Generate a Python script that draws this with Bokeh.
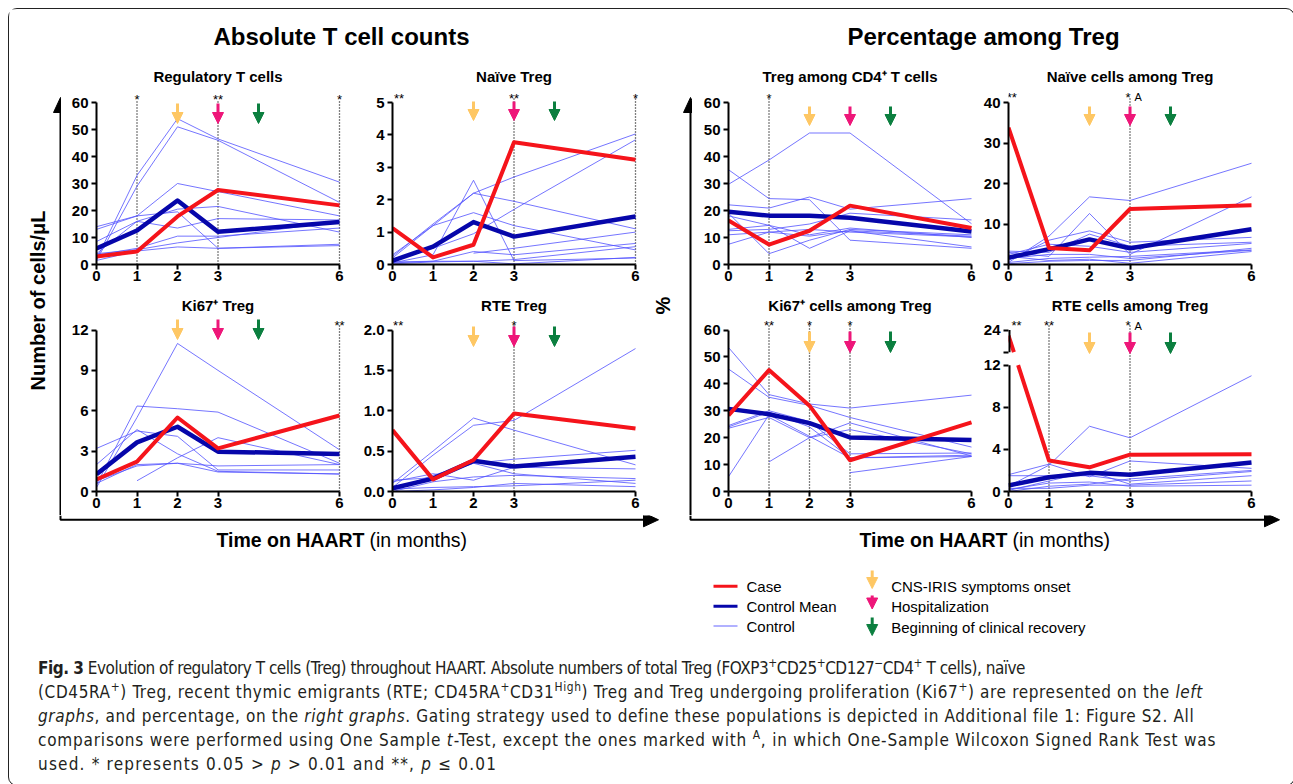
import math
from bokeh.plotting import figure
from bokeh.layouts import row, column
from bokeh.models import (Range1d, FixedTicker, PrintfTickFormatter, CustomJSTickFormatter,
                          Arrow, NormalHead, Div, Spacer)
from bokeh.core.properties import value
from bokeh.embed import file_html
from bokeh.resources import INLINE

NAN = float("nan")
FONT = "Liberation Sans"

# ---------------------------------------------------------------- data
MONTHS = [0, 1, 2, 3, 6]
EVENT_MONTHS = [2, 3, 4]
EVENT_COLORS = ["#fec764", "#ee1679", "#0b7f3f"]
EVENT_LABELS = ["CNS-IRIS symptoms onset", "Hospitalization", "Beginning of clinical recovery"]
SERIES_LABELS = ["Case", "Control Mean", "Control"]

CASE_COLOR = "#f5141b"
MEAN_COLOR = "#0606aa"
CTRL_COLOR = "#5252ff"

# Regulatory T cells (cells/uL)
treg_abs_case = [3.0, 4.8, 17.8, 27.6, 21.9]
treg_abs_mean = [5.9, 12.6, 23.7, 12.1, 15.7]
treg_abs_controls = [
    [2.0, 33.0, 54.0, 46.5, 30.5],
    [1.5, 29.0, 51.0, 46.0, 23.0],
    [14.0, 18.0, 19.5, 6.0, 7.0],
    [13.0, 18.0, 30.0, 27.0, 18.0],
    [8.5, 16.0, 20.5, 21.5, 12.0],
    [4.0, 16.0, 13.5, 17.0, 16.5],
    [3.5, 6.0, 10.5, 10.5, 13.5],
    [4.0, 5.5, 8.0, 10.0, 16.0],
    [1.5, 5.0, 6.5, 6.0, 7.5],
]
# Naive Treg (cells/uL)
naive_abs_case = [1.12, 0.22, 0.61, 3.77, 3.23]
naive_abs_mean = [0.12, 0.55, 1.31, 0.86, 1.48]
naive_abs_controls = [
    [0.2, 1.2, 2.2, 2.7, 4.03],
    [0.1, 0.5, 0.95, 1.7, 3.85],
    [0.05, 0.3, 2.6, 0.12, 0.2],
    [0.25, 1.25, 2.2, 1.95, 1.1],
    [0.3, 1.2, 1.6, 1.2, 0.45],
    [None, None, 0.35, 0.5, 1.0],
    [0.05, 0.1, 0.4, 0.3, 0.65],
    [0.02, 0.08, 0.1, 0.15, 0.55],
    [0.08, 0.1, 0.1, 0.02, 0.22],
]
# Ki67+ Treg (cells/uL)
ki67_abs_case = [0.89, 2.22, 5.5, 3.2, 5.65]
ki67_abs_mean = [1.28, 3.65, 4.81, 2.96, 2.79]
ki67_abs_controls = [
    [0.3, 5.5, 11.0, 9.0, 3.1],
    [0.5, 6.35, 6.15, 5.9, 2.1],
    [3.2, 4.5, 4.1, 1.6, 1.6],
    [2.0, 4.6, 2.8, 1.5, 1.3],
    [0.8, 1.9, 2.1, 1.9, 2.0],
    [None, 0.8, 2.5, 4.0, 2.0],
    [0.6, 2.0, 2.1, 1.45, 1.3],
]
# RTE Treg (cells/uL)
rte_abs_case = [0.76, 0.15, 0.39, 0.965, 0.78]
rte_abs_mean = [0.04, 0.16, 0.38, 0.31, 0.43]
rte_abs_controls = [
    [0.05, 0.45, 0.82, 0.88, 1.77],
    [0.1, 0.5, 0.91, 0.76, 0.33],
    [0.14, 0.17, 0.35, 0.40, 0.51],
    [0.12, 0.22, 0.14, 0.3, 0.28],
    [0.02, 0.2, 0.35, 0.22, 0.1],
    [0.0, 0.12, 0.18, 0.2, 0.16],
    [0.03, 0.05, 0.06, 0.07, 0.14],
    [0.0, 0.02, 0.05, 0.1, 0.06],
]
# Treg among CD4+ T cells (%)
treg_pct_case = [16.3, 7.4, 12.5, 21.8, 13.5]
treg_pct_mean = [19.5, 18.1, 18.1, 17.3, 12.2]
treg_pct_controls = [
    [29.7, 38.7, 48.7, 48.7, 15.1],
    [35.1, 24.4, 24.0, 9.0, 6.0],
    [22.1, 20.9, 25.0, 20.5, 24.4],
    [18.0, 14.5, 6.0, 12.5, 10.5],
    [13.0, 14.5, 11.0, 13.5, 10.0],
    [11.0, 12.0, 10.5, 12.5, 6.5],
    [7.5, 12.0, 13.0, 12.0, 10.2],
    [19.0, 4.0, 9.0, 13.0, 11.0],
    [12.5, 13.0, 15.0, 19.0, 16.5],
]
# Naive cells among Treg (%)
naive_pct_case = [33.8, 4.1, 3.5, 13.7, 14.6]
naive_pct_mean = [1.7, 3.8, 6.2, 4.0, 8.7]
naive_pct_controls = [
    [0.5, 7.0, 16.7, 15.8, 25.0],
    [3.0, 2.0, 12.6, 2.5, 16.7],
    [1.0, 6.0, 8.3, 5.5, 6.7],
    [3.3, 3.0, 7.5, 4.5, 5.5],
    [2.5, 5.0, 4.5, 3.0, 5.2],
    [0.5, 1.5, 1.8, 2.0, 3.6],
    [2.0, 1.0, 1.3, 0.3, 3.2],
    [1.5, 2.5, 2.5, 1.5, 3.5],
    [0.2, 0.8, 1.0, 1.0, 4.0],
]
# Ki67+ cells among Treg (%)
ki67_pct_case = [28.3, 45.1, 31.9, 11.6, 25.7]
ki67_pct_mean = [30.7, 28.7, 25.4, 20.1, 19.1]
ki67_pct_controls = [
    [53.5, 36.0, 32.5, 31.0, 35.8],
    [45.5, 35.0, 32.0, 27.5, 16.5],
    [24.5, 30.0, 26.0, 14.0, 14.3],
    [23.5, 27.5, 20.0, 25.5, 13.2],
    [5.5, 28.5, 20.5, 12.5, 13.5],
    [None, 11.0, 20.0, 23.0, 14.0],
    [None, None, None, 7.0, 13.0],
    [24.0, 29.5, 24.0, 12.5, 13.0],
]
# RTE cells among Treg (%)
rte_pct_case = [23.0, 2.94, 2.3, 3.5, 3.54]
rte_pct_mean = [0.57, 1.36, 1.77, 1.6, 2.75]
rte_pct_controls = [
    [0.5, 2.5, 6.2, 5.1, 11.0],
    [1.6, 2.6, 1.4, 2.9, 2.2],
    [1.5, 1.5, 1.5, 1.0, 1.9],
    [0.1, 1.0, 1.9, 0.7, 1.5],
    [0.0, 0.5, 0.7, 1.2, 2.0],
    [0.3, 0.3, 0.6, 0.6, 1.0],
    [0.2, 0.8, 0.9, 0.5, 0.6],
]
RTE_PCT_LOWER_TICKS = [0, 4, 8, 12]
RTE_PCT_UPPER = [20, 24]       # values shown on the upper (broken) segment

# ---------------------------------------------------------------- geometry
PX_PER_MONTH = 40.5
FRAME_W = 251
X_END = FRAME_W / PX_PER_MONTH
ROW_GEO = {
    "top": dict(mbt=2, fh=204, mbb=24, frame_top=60, y0=264, ytop=102, title_y=76),
    "bottom": dict(mbt=2, fh=201, mbb=24, frame_top=290, y0=491, ytop=329.5, title_y=305),
}
# broken axis of the last panel (display units)
K8 = (491 - 364.7) / 12.0
D_TOP = round((491 - 329.5) / K8, 3)
BRK_LO_D = round((491 - 351.7) / K8, 3)


def rte_disp(v):
    if v is None:
        return NAN
    if v <= 12:
        return v
    lo, hi = RTE_PCT_UPPER
    return BRK_LO_D + (v - lo) * (D_TOP - BRK_LO_D) / (hi - lo)


def clean(vals):
    return [NAN if v is None else v for v in vals]


def with_break(xs, ys, lo, hi):
    ox, oy = [], []
    for i in range(len(xs)):
        if i > 0:
            y0, y1 = ys[i - 1], ys[i]
            x0, x1 = xs[i - 1], xs[i]
            if not (math.isnan(y0) or math.isnan(y1)):
                a, b = sorted((y0, y1))
                if a < lo and b > hi:
                    def at(yv):
                        return x0 + (yv - y0) / (y1 - y0) * (x1 - x0)
                    f, s = (lo, hi) if y0 < y1 else (hi, lo)
                    ox += [at(f), NAN, at(s)]
                    oy += [f, NAN, s]
        ox.append(xs[i])
        oy.append(ys[i])
    return ox, oy


def style_axes(p):
    for ax in list(p.xaxis) + list(p.yaxis):
        ax.axis_line_width = 2
        ax.axis_line_color = "black"
        ax.major_tick_line_width = 2
        ax.major_tick_line_color = "black"
        ax.major_tick_out = 5
        ax.major_tick_in = 0
        ax.minor_tick_line_color = None
        ax.major_label_text_font = FONT
        ax.major_label_text_font_style = "bold"
        ax.major_label_text_font_size = "15px"
        ax.major_label_text_color = "black"
    p.xaxis.major_label_standoff = 1
    p.yaxis.major_label_standoff = 3


def make_panel(title, top, yticks, case, mean, controls, stars, dotted, row_kind,
               mb_left, mb_right, arrow_px, star_px, fmt=None, broken=False):
    g = ROW_GEO[row_kind]
    k = (g["y0"] - g["ytop"]) / top

    def v(py):
        return (g["y0"] - py) / k

    p = figure(frame_width=FRAME_W, frame_height=g["fh"],
               x_range=Range1d(0, X_END), y_range=Range1d(0, v(g["frame_top"])),
               min_border_left=mb_left, min_border_right=mb_right,
               min_border_top=g["mbt"], min_border_bottom=g["mbb"],
               toolbar_location=None, output_backend="svg")
    p.outline_line_color = None
    p.xgrid.visible = False
    p.ygrid.visible = False
    p.background_fill_color = "white"
    p.border_fill_color = "white"
    p.xaxis.ticker = FixedTicker(ticks=MONTHS)
    p.xaxis.bounds = (0, 6)
    p.yaxis.ticker = FixedTicker(ticks=yticks)
    p.yaxis.bounds = (0, top)
    style_axes(p)
    if fmt is not None:
        p.yaxis.formatter = fmt

    # significance dotted lines
    ytop_dot = v(star_px + 3)
    if dotted:
        p.segment(x0=dotted, y0=[0] * len(dotted), x1=dotted, y1=[ytop_dot] * len(dotted),
                  line_color="black", line_width=1.3, line_dash="1 2")

    for c in controls:
        ys = [rte_disp(x) for x in c] if broken else clean(c)
        p.line(MONTHS, ys, line_color=CTRL_COLOR, line_alpha=0.8, line_width=1)
    ys = [rte_disp(x) for x in mean] if broken else clean(mean)
    p.line(MONTHS, ys, line_color=MEAN_COLOR, line_width=4.5, line_join="round")
    if broken:
        xs, ys = with_break(MONTHS, [rte_disp(x) for x in case], 12.0, BRK_LO_D)
    else:
        xs, ys = MONTHS, clean(case)
    p.line(xs, ys, line_color=CASE_COLOR, line_width=4, line_join="round")

    # stars
    for sx, st, sz in stars:
        p.text(x=[sx], y=[v(star_px + 3)], text=[st], text_font=value(FONT),
               text_font_size=f"{sz}px", text_align="center", text_baseline="alphabetic",
               text_color="black")

    # event arrows
    for m, col in zip(EVENT_MONTHS, EVENT_COLORS):
        p.add_layout(Arrow(end=NormalHead(size=11, fill_color=col, line_color=col, line_width=1),
                           x_start=m, x_end=m, y_start=v(arrow_px[0]), y_end=v(arrow_px[1]),
                           line_color=col, line_width=3))

    # panel title
    p.text(x=[3.0], y=[v(g["title_y"])], text=[title], text_font=value(FONT),
           text_font_size="15px", text_font_style="bold", text_align="center",
           text_baseline="middle", text_color="black")

    if broken:
        p.yaxis.axis_line_color = None
        p.segment(x0=[0, 0], y0=[0, BRK_LO_D], x1=[0, 0], y1=[12, D_TOP],
                  line_color="black", line_width=4)
    return p


def pix_fig(x0, x1, y0, y1):
    p = figure(width=x1 - x0, height=y1 - y0, x_range=Range1d(x0, x1),
               y_range=Range1d(-y1, -y0), min_border=0, toolbar_location=None,
               output_backend="svg", x_axis_location=None, y_axis_location=None)
    for gr in p.grid:
        gr.visible = False
    p.outline_line_color = None
    p.background_fill_color = "white"
    p.border_fill_color = "white"
    return p


def ptext(p, x, y, t, size, bold=False, align="left", angle=0.0, color="black"):
    p.text(x=[x], y=[-y], text=[t], text_font=value(FONT), text_font_size=f"{size}px",
           text_font_style="bold" if bold else "normal", text_align=align,
           text_baseline="middle", angle=angle, text_color=color)


# ---------------------------------------------------------------- panels
P1 = make_panel("Regulatory T cells", 60, list(range(0, 61, 10)), treg_abs_case, treg_abs_mean,
                treg_abs_controls, [(1, "*", 13), (3, "**", 13), (6, "*", 13)], [1, 3, 6],
                "top", 35, 3, (103, 123), 96)
P2 = make_panel("Naïve Treg", 5, [0, 1, 2, 3, 4, 5], naive_abs_case, naive_abs_mean,
                naive_abs_controls, [(0.16, "**", 13), (3, "**", 13), (6, "*", 13)], [3, 6],
                "top", 42, 2, (101, 120), 94.5)
P5 = make_panel("Ki67⁺ Treg", 12, [0, 3, 6, 9, 12], ki67_abs_case, ki67_abs_mean,
                ki67_abs_controls, [(6, "**", 13)], [6],
                "bottom", 35, 3, (319, 339), 322)
P6 = make_panel("RTE Treg", 2.0, [0, 0.5, 1.0, 1.5, 2.0], rte_abs_case, rte_abs_mean,
                rte_abs_controls, [(0.14, "**", 13), (3, "*", 13)], [3],
                "bottom", 42, 2, (326, 346), 322, fmt=PrintfTickFormatter(format="%.1f"))
P3 = make_panel("Treg among CD4⁺ T cells", 60, list(range(0, 61, 10)), treg_pct_case, treg_pct_mean,
                treg_pct_controls, [(1, "*", 13)], [1],
                "top", 36, 1, (106, 125), 95)
P4 = make_panel("Naïve cells among Treg", 40, [0, 10, 20, 30, 40], naive_pct_case, naive_pct_mean,
                naive_pct_controls, [(0.08, "**", 13), (2.95, "*", 13), (3.2, "A", 11)], [3],
                "top", 28, 4, (106, 125), 93.5)
P7 = make_panel("Ki67⁺ cells among Treg", 60, list(range(0, 61, 10)), ki67_pct_case, ki67_pct_mean,
                ki67_pct_controls, [(1, "**", 13), (2, "*", 13), (3, "*", 13)], [1, 2, 3],
                "bottom", 36, 1, (331, 352), 322)
rte_fmt = CustomJSTickFormatter(code=f"""
    if (Math.abs(tick - {D_TOP}) < 0.01) return "{RTE_PCT_UPPER[1]}";
    if (Math.abs(tick - {BRK_LO_D}) < 0.01) return "";
    return tick.toFixed(0);
""")
P8 = make_panel("RTE cells among Treg", D_TOP, RTE_PCT_LOWER_TICKS + [BRK_LO_D, D_TOP],
                rte_pct_case, rte_pct_mean, rte_pct_controls,
                [(0.2, "**", 13), (1, "**", 13), (2.95, "*", 13), (3.2, "A", 11)], [1, 3],
                "bottom", 28, 4, (332, 353), 322, fmt=rte_fmt, broken=True)

# ---------------------------------------------------------------- decorations
A = pix_fig(9, 1284, 9, 58)
ptext(A, 341, 36, "Absolute T cell counts", 24, bold=True, align="center")
ptext(A, 983, 36, "Percentage among Treg", 24, bold=True, align="center")

L0 = pix_fig(9, 61, 58, 515)
L0.line([60, 60], [-515, -108], line_color="black", line_width=2)
L0.patch([53, 60, 67], [-112, -97, -112], color="black")
ptext(L0, 37, 300, "Number of cells/μL", 20, bold=True, align="center", angle=math.pi / 2)

R0 = pix_fig(645, 692, 58, 515)
R0.line([690, 690], [-515, -108], line_color="black", line_width=2)
R0.patch([683, 690, 697], [-112, -97, -112], color="black")
ptext(R0, 662, 305, "%", 20, bold=True, align="center", angle=math.pi / 2)

D = pix_fig(9, 1284, 515, 560)
D.line([60, 60, 645], [-515, -519.3, -519.3], line_color="black", line_width=2)
D.patch([643, 658, 643], [-512.3, -519.3, -526.3], color="black")
D.line([690, 690, 1266], [-515, -519.3, -519.3], line_color="black", line_width=2)
D.patch([1264, 1279, 1264], [-512.3, -519.3, -526.3], color="black")
ptext(D, 364, 539, "Time on HAART", 19.5, bold=True, align="right")
ptext(D, 369, 539, "(in months)", 19.5, align="left")
ptext(D, 1007, 539, "Time on HAART", 19.5, bold=True, align="right")
ptext(D, 1012, 539, "(in months)", 19.5, align="left")

E = pix_fig(9, 1284, 560, 645)
leg_y = [585.7, 605.7, 625.5]
E.line([713, 737], [-leg_y[0]] * 2, line_color=CASE_COLOR, line_width=3)
E.line([713, 737], [-leg_y[1]] * 2, line_color=MEAN_COLOR, line_width=3)
E.line([713, 737], [-leg_y[2]] * 2, line_color=CTRL_COLOR, line_alpha=0.6, line_width=1.5)
for yy, lab in zip(leg_y, SERIES_LABELS):
    ptext(E, 746, yy, lab, 15)
arr_px = [(570, 588), (595, 608.5), (617, 635)]
lab_y = [585.7, 605.7, 627]
for (a0, a1), col, yy, lab in zip(arr_px, EVENT_COLORS, lab_y, EVENT_LABELS):
    E.add_layout(Arrow(end=NormalHead(size=11, fill_color=col, line_color=col, line_width=1),
                       x_start=871.7, x_end=871.7, y_start=-a0, y_end=-a1,
                       line_color=col, line_width=3))
    ptext(E, 890.7, yy, lab, 15)

cap_lines = [
    "<b>Fig. 3</b> Evolution of regulatory T cells (Treg) throughout HAART. Absolute numbers of total Treg "
    "(FOXP3<sup>+</sup>CD25<sup>+</sup>CD127<sup>−</sup>CD4<sup>+</sup> T cells), naïve",
    "(CD45RA<sup>+</sup>) Treg, recent thymic emigrants (RTE; CD45RA<sup>+</sup>CD31<sup>High</sup>) Treg "
    "and Treg undergoing proliferation (Ki67<sup>+</sup>) are represented on the <i>left</i>",
    "<i>graphs</i>, and percentage, on the <i>right graphs</i>. Gating strategy used to define these "
    "populations is depicted in Additional file 1: Figure S2. All",
    "comparisons were performed using One Sample <i>t</i>-Test, except the ones marked with <sup>A</sup>, "
    "in which One-Sample Wilcoxon Signed Rank Test was",
    "used. * represents 0.05 &gt; <i>p</i> &gt; 0.01 and **, <i>p</i> ≤ 0.01",
]
cap_spacing = [-0.49, 0.63, 0.63, 0.80, 1.2]
cap_body = "".join(
    f"<div style=\"letter-spacing:{ls}px;\">{ln}</div>" for ln, ls in zip(cap_lines, cap_spacing)
).replace("<sup>", "<sup style=\"font-size:70%;line-height:0;\">")
cap_html = ("<div style=\"font-family:'Liberation Sans Narrow','DejaVu Sans Condensed',sans-serif;"
            "font-size:17px;line-height:24px;color:#231f20;padding:6px 0 0 24px;white-space:nowrap;\">"
            + cap_body + "</div>")
CAP = Div(text=cap_html, width=1275, height=130)

main = row(L0, column(row(P1, P2), row(P5, P6)), R0, column(row(P3, P4), row(P7, P8)),
           Spacer(width=21, height=457))
page = column(A, main, D, E, CAP,
              styles={"border": "1px solid #222", "border-radius": "9px", "background": "white",
                      "margin": "8px 0 0 8px"})

open("out.html", "w").write(file_html(page, INLINE, title="Fig. 3"))
